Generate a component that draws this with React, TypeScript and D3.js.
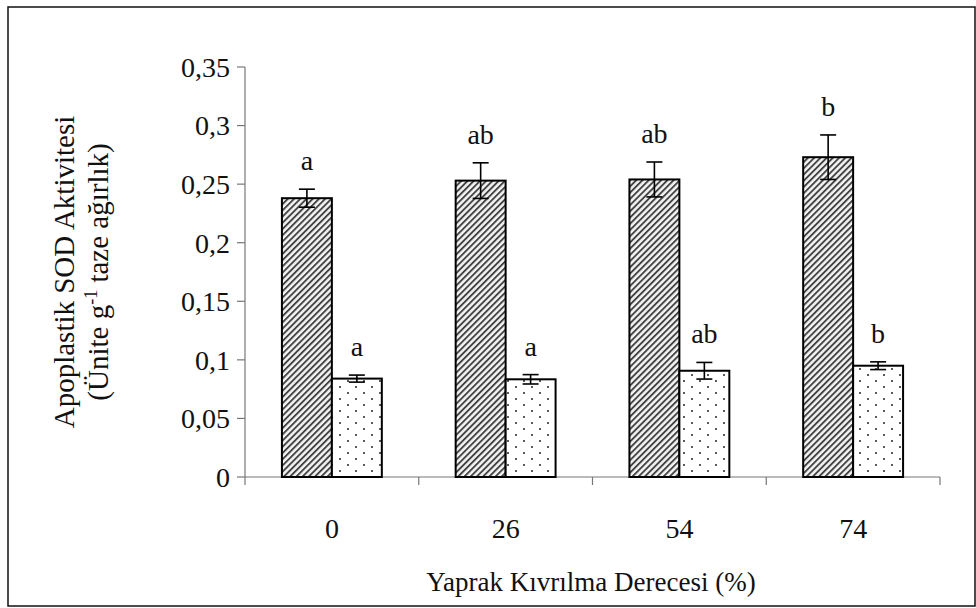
import * as d3 from "d3";

const categories = ["0", "26", "54", "74"];
const hatchedValues = [0.238, 0.253, 0.254, 0.273];
const hatchedErrors = [0.0077, 0.0152, 0.0149, 0.019];
const hatchedLabels = ["a", "ab", "ab", "b"];
const dottedValues = [0.084, 0.0834, 0.0907, 0.095];
const dottedErrors = [0.003, 0.004, 0.0071, 0.0033];
const dottedLabels = ["a", "a", "ab", "b"];
const yTicks = [0, 0.05, 0.1, 0.15, 0.2, 0.25, 0.3, 0.35];

const W = 976;
const H = 608;
const PLOT = { left: 245, right: 940, top: 67, bottom: 477 };
const FONT = "Liberation Serif, Times New Roman, serif";

const fmt = (v: number) => String(v).replace(".", ",");

export default function App() {
  const x = d3
    .scaleBand()
    .domain(categories)
    .range([PLOT.left, PLOT.right])
    .paddingInner(0.425)
    .paddingOuter(0.2125);
  const y = d3.scaleLinear().domain([0, 0.35]).range([PLOT.bottom, PLOT.top]);
  const bw = x.bandwidth() / 2;
  const step = x.step();

  const series = [
    { values: hatchedValues, errors: hatchedErrors, labels: hatchedLabels, fill: "url(#hatch)", offset: 0 },
    { values: dottedValues, errors: dottedErrors, labels: dottedLabels, fill: "url(#dots)", offset: bw },
  ];

  return (
    <svg
      width={W}
      height={H}
      style={{ position: "absolute", left: 0, top: 0, background: "#fff", fontFamily: FONT }}
    >
      <defs>
        <pattern id="hatch" width="4.4" height="4.4" patternUnits="userSpaceOnUse" patternTransform="rotate(45)">
          <rect width="4.4" height="4.4" fill="#f4f4f4" />
          <rect x="0" y="0" width="1.9" height="4.4" fill="#444" />
        </pattern>
        <pattern id="dots" width="16" height="12" patternUnits="userSpaceOnUse">
          <rect width="16" height="12" fill="#fff" />
          <circle cx="4" cy="3" r="1" fill="#222" />
          <circle cx="12" cy="9" r="1" fill="#222" />
        </pattern>
      </defs>

      <rect x={8} y={7} width={967} height={599} fill="none" stroke="#111" strokeWidth={1.5} />

      {/* y axis */}
      <line x1={PLOT.left} x2={PLOT.left} y1={y(0.35)} y2={y(0)} stroke="#777" strokeWidth={1.2} />
      {yTicks.map((t) => (
        <g key={t}>
          <line x1={PLOT.left - 8} x2={PLOT.left} y1={y(t)} y2={y(t)} stroke="#777" strokeWidth={1.2} />
          <text x={PLOT.left - 15} y={y(t)} dy="0.35em" textAnchor="end" fontSize={28} fill="#111">
            {fmt(t)}
          </text>
        </g>
      ))}

      {/* x axis */}
      <line x1={PLOT.left} x2={PLOT.right} y1={y(0)} y2={y(0)} stroke="#777" strokeWidth={1.2} />
      {d3.range(categories.length + 1).map((i) => {
        const xx = PLOT.left + i * step;
        return <line key={i} x1={xx} x2={xx} y1={y(0)} y2={y(0) + 8} stroke="#777" strokeWidth={1.2} />;
      })}
      {categories.map((c) => (
        <text key={c} x={(x(c) as number) + x.bandwidth() / 2} y={538} textAnchor="middle" fontSize={28} fill="#111">
          {c}
        </text>
      ))}

      {/* bars */}
      {series.map((s, si) =>
        categories.map((c, i) => {
          const x0 = (x(c) as number) + s.offset;
          const cx = x0 + bw / 2;
          const top = y(s.values[i] + s.errors[i]);
          const bot = y(s.values[i] - s.errors[i]);
          return (
            <g key={`${si}-${c}`}>
              <rect
                x={x0}
                y={y(s.values[i])}
                width={bw}
                height={y(0) - y(s.values[i])}
                fill={s.fill}
                stroke="#000"
                strokeWidth={2}
              />
              <line x1={cx} x2={cx} y1={top} y2={bot} stroke="#000" strokeWidth={1.6} />
              <line x1={cx - 8} x2={cx + 8} y1={top} y2={top} stroke="#000" strokeWidth={1.6} />
              <line x1={cx - 8} x2={cx + 8} y1={bot} y2={bot} stroke="#000" strokeWidth={1.6} />
              <text x={cx} y={top - 19} textAnchor="middle" fontSize={28} fill="#111">
                {s.labels[i]}
              </text>
            </g>
          );
        })
      )}

      {/* axis titles */}
      <g transform={`translate(74, ${(PLOT.top + PLOT.bottom) / 2}) rotate(-90)`}>
        <text x={0} y={0} textAnchor="middle" fontSize={29} fill="#111">
          Apoplastik SOD Aktivitesi
        </text>
        <text x={0} y={34} textAnchor="middle" fontSize={29} fill="#111">
          (Ünite g<tspan dy={-11} fontSize={18}>-1</tspan>
          <tspan dy={11}> taze ağırlık)</tspan>
        </text>
      </g>
      <text x={591} y={591} textAnchor="middle" fontSize={27} fill="#111">
        Yaprak Kıvrılma Derecesi (%)
      </text>
    </svg>
  );
}
